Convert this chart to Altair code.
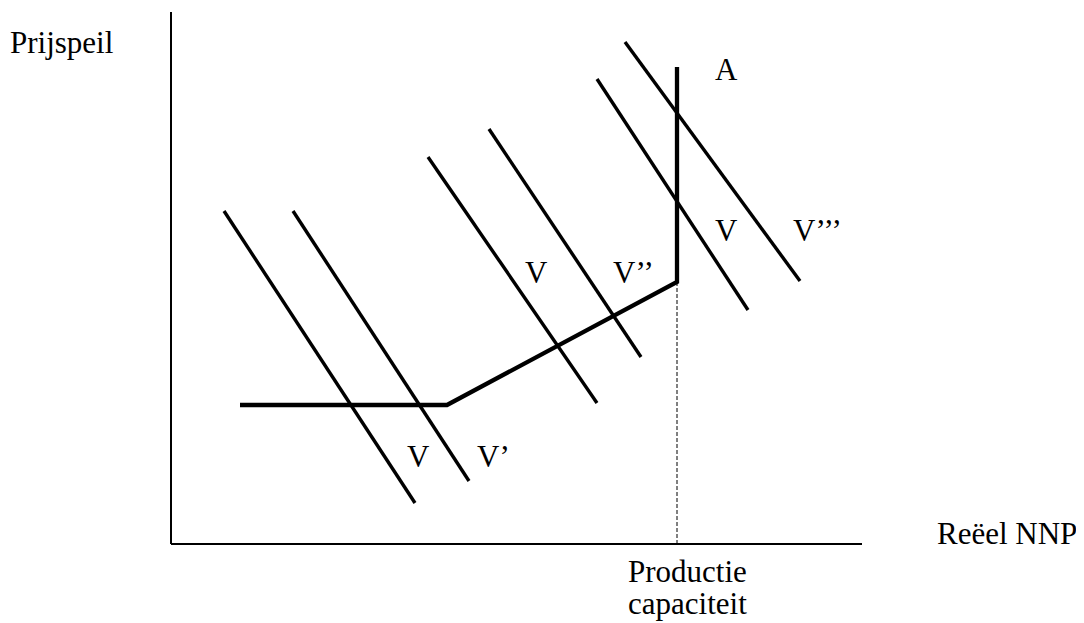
import altair as alt
import pandas as pd

# Diagram units (origin = intersection of the two axes)
# Aggregate demand lines (V, V', V, V'', V, V''')
demand_x1 = [5.3, 12.2, 25.7, 31.8, 42.6, 45.4]
demand_y1 = [33.3, 33.3, 38.7, 41.5, 46.5, 50.2]
demand_x2 = [24.4, 29.8, 42.6, 47.0, 57.7, 62.9]
demand_y2 = [4.1, 6.3, 14.1, 18.7, 23.4, 26.3]

# Aggregate supply curve (A)
supply_x = [6.9, 27.6, 50.6, 50.6]
supply_y = [13.9, 13.9, 26.2, 47.7]

# Production capacity and axis extents
capacity = 50.6
capacity_top = 26.2
axis_x_end = 69.1
axis_y_end = 53.2

# Labels
label_text = ["Prijspeil", "A", "V", "V’’’", "V", "V’’", "V", "V’",
              "Reëel NNP", "Productie", "capaciteit"]
label_x = [-16.1, 54.4, 54.4, 62.2, 35.4, 44.2, 23.6, 30.6, 76.6, 45.7, 45.7]
label_y = [49.1, 46.4, 30.3, 30.3, 26.1, 26.1, 7.7, 7.7, 0.0, -3.8, -7.0]

xs = alt.Scale(domain=[-16.3, 90.5], nice=False, zero=False)
ys = alt.Scale(domain=[-7.9, 53.6], nice=False, zero=False)

axes_df = pd.DataFrame({"x": [0, 0], "y": [0, 0],
                        "x2": [0, axis_x_end], "y2": [axis_y_end, 0]})
demand_df = pd.DataFrame({"x": demand_x1, "y": demand_y1,
                          "x2": demand_x2, "y2": demand_y2})
supply_df = pd.DataFrame({"x": supply_x, "y": supply_y,
                          "i": list(range(len(supply_x)))})
cap_df = pd.DataFrame({"x": [capacity], "y": [0.0], "y2": [capacity_top]})
label_df = pd.DataFrame({"t": label_text, "x": label_x, "y": label_y})

axes = alt.Chart(axes_df).mark_rule(color="black", strokeWidth=2).encode(
    x=alt.X("x:Q", scale=xs, axis=None),
    y=alt.Y("y:Q", scale=ys, axis=None),
    x2="x2:Q", y2="y2:Q")

demand = alt.Chart(demand_df).mark_rule(color="black", strokeWidth=3.4).encode(
    x=alt.X("x:Q", scale=xs, axis=None),
    y=alt.Y("y:Q", scale=ys, axis=None),
    x2="x2:Q", y2="y2:Q")

supply = alt.Chart(supply_df).mark_line(color="black", strokeWidth=4.3,
                                        strokeJoin="miter").encode(
    x=alt.X("x:Q", scale=xs, axis=None),
    y=alt.Y("y:Q", scale=ys, axis=None),
    order="i:Q")

cap = alt.Chart(cap_df).mark_rule(color="black", strokeWidth=1,
                                  strokeDash=[4, 2]).encode(
    x=alt.X("x:Q", scale=xs, axis=None),
    y=alt.Y("y:Q", scale=ys, axis=None),
    y2="y2:Q")

labels = alt.Chart(label_df).mark_text(align="left", baseline="alphabetic",
                                       font="Liberation Serif", fontSize=31,
                                       color="black").encode(
    x=alt.X("x:Q", scale=xs, axis=None),
    y=alt.Y("y:Q", scale=ys, axis=None),
    text="t:N")

chart = alt.layer(cap, axes, demand, supply, labels).properties(
    width=1068, height=615, padding=0,
    autosize=alt.AutoSizeParams(type="none"),
).configure_view(stroke=None)

chart.save("out.html", embed_options={"renderer": "svg", "actions": False})
